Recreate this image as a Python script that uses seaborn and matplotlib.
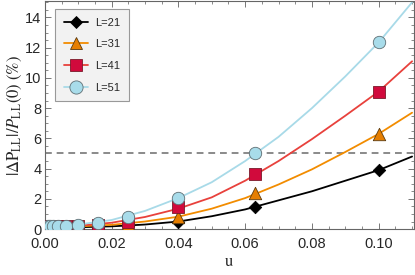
import numpy as np
import pandas as pd
import matplotlib
matplotlib.use("Agg")
import matplotlib.pyplot as plt
from matplotlib.lines import Line2D
from matplotlib.ticker import MultipleLocator, FormatStrFormatter
import seaborn as sns

# data points (markers)
u_pts = [0.001, 0.0016, 0.0025, 0.004, 0.0063, 0.01, 0.016, 0.025, 0.04, 0.063, 0.1]
d21 = [0.12, 0.12, 0.12, 0.12, 0.12, 0.1, 0.1, 0.2, 0.45, 1.45, 3.9]
d31 = [0.15, 0.15, 0.15, 0.15, 0.15, 0.15, 0.2, 0.35, 0.8, 2.38, 6.3]
d41 = [0.18, 0.18, 0.18, 0.18, 0.18, 0.2, 0.25, 0.5, 1.45, 3.63, 9.1]
d51 = [0.2, 0.2, 0.2, 0.2, 0.2, 0.25, 0.4, 0.8, 2.05, 5.0, 12.35]

# fitted curves
u_fit = [0.0, 0.01, 0.02, 0.03, 0.04, 0.05, 0.06, 0.07, 0.08, 0.09, 0.10, 0.11]
f21 = [0.15, 0.12, 0.18, 0.3, 0.5, 0.85, 1.3, 1.9, 2.5, 3.2, 3.9, 4.8]
f31 = [0.2, 0.18, 0.28, 0.5, 0.82, 1.35, 2.05, 2.95, 3.95, 5.1, 6.3, 7.7]
f41 = [0.22, 0.22, 0.42, 0.8, 1.35, 2.1, 3.2, 4.5, 5.95, 7.5, 9.1, 11.1]
f51 = [0.25, 0.3, 0.6, 1.2, 2.05, 3.1, 4.5, 6.1, 8.0, 10.1, 12.35, 15.0]

labels = ["L=21", "L=31", "L=41", "L=51"]
pts = [d21, d31, d41, d51]
fits = [f21, f31, f41, f51]
threshold = 5

line_cols = ["black", "#F28C00", "#E8413C", "#A8DAE8"]
face_cols = ["black", "#E67E00", "#D10A3C", "#A8DCEA"]
edge_cols = ["black", "#5a3a10", "#7a1a2a", "#5f6f74"]
marks = ["D", "^", "s", "o"]
sizes = [40, 80, 65, 80]

sns.set_style("ticks")
plt.rcParams["font.family"] = ["Liberation Sans", "DejaVu Sans"]
plt.rcParams["mathtext.fontset"] = "stix"

fig = plt.figure(figsize=(4.15, 2.75), dpi=100)
ax = fig.add_axes([0.108, 0.167, 0.889, 0.83])

df_fit = pd.DataFrame({
    "u": np.tile(u_fit, 4),
    "val": np.concatenate(fits),
    "L": np.repeat(labels, len(u_fit)),
})
sns.lineplot(data=df_fit, x="u", y="val", hue="L", palette=line_cols,
             legend=False, linewidth=1.3, ax=ax, zorder=2)

for i in range(4):
    sns.scatterplot(x=u_pts, y=pts[i], marker=marks[i], s=sizes[i],
                    color=face_cols[i], edgecolor=edge_cols[i], linewidth=0.6,
                    ax=ax, zorder=3 + i, legend=False)

ax.axhline(threshold, color="#8a8a8a", linestyle=(0, (3.5, 2.5)), linewidth=1.4, zorder=1)

ax.set_xlim(0, 0.1105)
ax.set_ylim(0, 15.1)
ax.xaxis.set_major_locator(MultipleLocator(0.02))
ax.xaxis.set_minor_locator(MultipleLocator(0.005))
ax.yaxis.set_major_locator(MultipleLocator(2))
ax.yaxis.set_minor_locator(MultipleLocator(0.5))
ax.xaxis.set_major_formatter(FormatStrFormatter("%.2f"))
ax.tick_params(which="both", direction="in", top=True, right=True, color="#777777",
               labelsize=10.5, pad=2.5)
ax.tick_params(axis="x", which="major", pad=6)
ax.tick_params(which="major", length=4, width=0.7)
ax.tick_params(which="minor", length=2, width=0.6)
for sp in ax.spines.values():
    sp.set_color("#666666")
    sp.set_linewidth(0.8)

ax.set_xlabel("u", family="STIXGeneral", fontsize=12, labelpad=2)
ax.set_ylabel(r"$|\Delta \mathrm{P}_{\mathrm{LL}}|/P_{\mathrm{LL}}(0)\ (\%)$", fontsize=12, labelpad=1)

handles = [Line2D([0], [0], color=line_cols[i], lw=1.3, marker=marks[i],
                  markersize=[6, 9, 8, 9.5][i], markerfacecolor=face_cols[i],
                  markeredgecolor=edge_cols[i], markeredgewidth=0.6)
           for i in range(4)]
leg = ax.legend(handles, labels, loc="upper left", bbox_to_anchor=(0.012, 0.99),
                frameon=True, fancybox=False, fontsize=8, handlelength=2.2,
                borderpad=0.8, labelspacing=1.05, handletextpad=0.6)
leg.get_frame().set_facecolor("#f2f2f2")
leg.get_frame().set_edgecolor("#999999")
leg.get_frame().set_linewidth(0.8)
leg.get_frame().set_alpha(1)

fig.savefig("out.png", dpi=100)
